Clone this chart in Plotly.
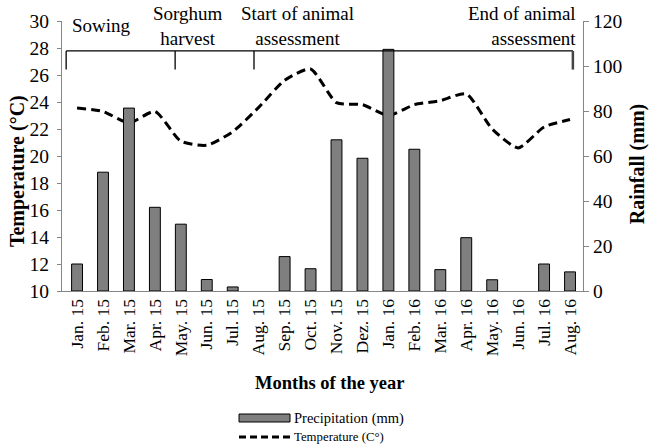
import plotly.graph_objects as go

months = ["Jan. 15", "Feb. 15", "Mar. 15", "Apr. 15", "May. 15", "Jun. 15", "Jul. 15",
          "Aug. 15", "Sep. 15", "Oct. 15", "Nov. 15", "Dez. 15", "Jan. 16", "Feb. 16",
          "Mar. 16", "Apr. 16", "May. 16", "Jun. 16", "Jul. 16", "Aug. 16"]
rainfall_mm = [12, 52.8, 81.3, 37.2, 29.7, 5.1, 1.8, 0, 15.3, 9.9, 67.2, 59, 107.4, 63,
               9.5, 23.7, 5, 0, 12, 8.5]
temperature_c = [23.55, 23.3, 22.45, 23.3, 21.1, 20.8, 21.8, 23.6, 25.6, 26.45, 23.95, 23.8,
                 23.0, 23.8, 24.1, 24.6, 22.0, 20.6, 22.15, 22.7]

FONT = "Liberation Serif"
AX = "#868686"

fig = go.Figure()
fig.add_trace(go.Bar(x=months, y=rainfall_mm, yaxis="y2", width=0.42,
                     marker=dict(color="#7f7f7f",
                                 line=dict(color="black", width=[1 if v > 0 else 0 for v in rainfall_mm])),
                     name="Precipitation (mm)", showlegend=False))
fig.add_trace(go.Scatter(x=months, y=temperature_c, mode="lines",
                         line=dict(color="black", width=3, dash="9px,5px", shape="spline", smoothing=0.6),
                         name="Temperature (C°)", showlegend=False))

# bracket of periods (temperature axis units)
yb, yt = 27.78, 26.4
fig.add_shape(type="line", xref="x", yref="y", x0=-0.42, x1=19.11, y0=yb, y1=yb,
              line=dict(color="black", width=1.3))
for xx, w in [(-0.42, 1.3), (3.78, 1.3), (6.82, 1.3), (19.11, 2.5)]:
    fig.add_shape(type="line", xref="x", yref="y", x0=xx, x1=xx, y0=yb, y1=yt,
                  line=dict(color="black" if w < 2 else "#444", width=w))

ann_font = dict(family=FONT, size=19, color="black")
fig.add_annotation(x=-0.27, y=29.7, xref="x", yref="y", text="Sowing", showarrow=False,
                   xanchor="left", yanchor="middle", font=ann_font)
fig.add_annotation(x=4.28, y=29.6, xref="x", yref="y", text="Sorghum<br>harvest", showarrow=False,
                   xanchor="center", yanchor="middle", font=ann_font)
fig.add_annotation(x=8.48, y=29.6, xref="x", yref="y", text="Start of animal<br>assessment",
                   showarrow=False, xanchor="center", yanchor="middle", font=ann_font)
fig.add_annotation(x=19.3, y=29.6, xref="x", yref="y", text="End of animal<br>assessment",
                   showarrow=False, xanchor="right", yanchor="middle", align="right", font=ann_font)

# axis titles
fig.add_annotation(x=-0.0864, y=0.444, xref="paper", yref="paper", text="<b>Temperature (°C)</b>",
                   textangle=-90, showarrow=False, xanchor="center", yanchor="middle",
                   font=dict(family=FONT, size=20, color="black"))
fig.add_annotation(x=1.104, y=0.47, xref="paper", yref="paper", text="<b>Rainfall (mm)</b>",
                   textangle=-90, showarrow=False, xanchor="center", yanchor="middle",
                   font=dict(family=FONT, size=20, color="black"))
fig.add_annotation(x=0.514, y=-0.341, xref="paper", yref="paper", text="<b>Months of the year</b>",
                   showarrow=False, xanchor="center", yanchor="middle",
                   font=dict(family=FONT, size=18.5, color="black"))

# custom legend
fig.add_shape(type="rect", xref="paper", yref="paper", x0=(239 - 62) / 521, x1=(290 - 62) / 521,
              y0=(291 - 414) / 270, y1=(291 - 422) / 270,
              fillcolor="#7f7f7f", line=dict(color="black", width=1))
fig.add_shape(type="line", xref="paper", yref="paper", x0=(239 - 62) / 521, x1=(290 - 62) / 521,
              y0=(291 - 437) / 270, y1=(291 - 437) / 270,
              line=dict(color="black", width=3, dash="7px,4px"))
fig.add_annotation(x=(292 - 62) / 521, y=(291 - 418) / 270, xref="paper", yref="paper",
                   text="Precipitation (mm)", showarrow=False, xanchor="left", yanchor="middle",
                   font=dict(family=FONT, size=14.5, color="black"))
fig.add_annotation(x=(292 - 62) / 521, y=(291 - 437) / 270, xref="paper", yref="paper",
                   text="Temperature (C°)", showarrow=False, xanchor="left", yanchor="middle",
                   font=dict(family=FONT, size=12.8, color="black"))

fig.update_layout(
    width=650, height=447,
    margin=dict(l=62, r=67, t=21, b=156),
    paper_bgcolor="white", plot_bgcolor="white",
    font=dict(family=FONT, color="black"),
    bargap=0.5,
    xaxis=dict(type="category", categoryorder="array", categoryarray=months,
               range=[-0.58, 19.5], showline=True, linecolor=AX, linewidth=1,
               ticks="", tickangle=-90, tickfont=dict(family=FONT, size=17.5),
               showgrid=False, zeroline=False),
    yaxis=dict(range=[10, 30], dtick=2, showline=True, linecolor=AX, linewidth=1,
               ticks="outside", ticklen=4, tickcolor=AX, showgrid=False, zeroline=False,
               ticklabelstandoff=4, tickfont=dict(family=FONT, size=19.5)),
    yaxis2=dict(range=[0, 120], dtick=20, overlaying="y", side="right", showline=True,
                linecolor=AX, linewidth=1, ticks="outside", ticklen=5, tickcolor=AX,
                showgrid=False, zeroline=False, tickfont=dict(family=FONT, size=19.5)),
)

fig.write_html("out.html", config={"displayModeBar": False},
               post_script="document.body.style.margin='0';document.body.style.overflow='hidden';")
